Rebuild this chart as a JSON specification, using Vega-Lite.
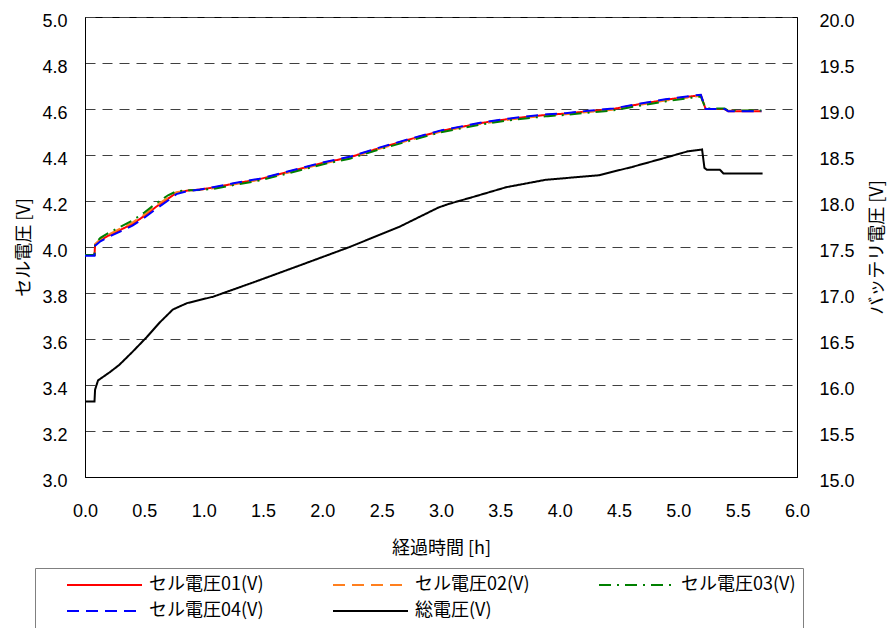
{
 "$schema": "https://vega.github.io/schema/vega-lite/v6.json",
 "width": 712, "height": 460,
 "autosize": "none",
 "padding": {"left": 85, "top": 17, "right": 91, "bottom": 151},
 "background": "white",
 "config": {
  "view": {"stroke": "black", "strokeWidth": 1},
  "font": "Noto Sans CJK JP",
  "axis": {"domainColor": "black", "labelColor": "black", "labelFont": "Liberation Sans", "labelFontSize": 18, "ticks": false, "titleFont": "Noto Sans CJK JP", "titleFontSize": 18, "titleFontWeight": "normal", "titleColor": "black", "labelFlush": false, "labelOverlap": false}
 },
 "data": {"values": [
  {"s":"セル電圧01(V)","t":0,"v":3.965},{"s":"セル電圧01(V)","t":0.08,"v":3.965},{"s":"セル電圧01(V)","t":0.085,"v":4.01},{"s":"セル電圧01(V)","t":0.13,"v":4.03},{"s":"セル電圧01(V)","t":0.2,"v":4.05},{"s":"セル電圧01(V)","t":0.3,"v":4.075},{"s":"セル電圧01(V)","t":0.4,"v":4.1},{"s":"セル電圧01(V)","t":0.5,"v":4.135},{"s":"セル電圧01(V)","t":0.6,"v":4.175},{"s":"セル電圧01(V)","t":0.7,"v":4.21},{"s":"セル電圧01(V)","t":0.77,"v":4.235},{"s":"セル電圧01(V)","t":0.86,"v":4.245},{"s":"セル電圧01(V)","t":0.97,"v":4.25},{"s":"セル電圧01(V)","t":1.1,"v":4.26},{"s":"セル電圧01(V)","t":1.25,"v":4.275},{"s":"セル電圧01(V)","t":1.47,"v":4.295},{"s":"セル電圧01(V)","t":1.7,"v":4.325},{"s":"セル電圧01(V)","t":2.0,"v":4.365},{"s":"セル電圧01(V)","t":2.23,"v":4.39},{"s":"セル電圧01(V)","t":2.48,"v":4.43},{"s":"セル電圧01(V)","t":2.75,"v":4.47},{"s":"セル電圧01(V)","t":3.0,"v":4.505},{"s":"セル電圧01(V)","t":3.2,"v":4.525},{"s":"セル電圧01(V)","t":3.35,"v":4.54},{"s":"セル電圧01(V)","t":3.55,"v":4.555},{"s":"セル電圧01(V)","t":3.71,"v":4.565},{"s":"セル電圧01(V)","t":3.9,"v":4.575},{"s":"セル電圧01(V)","t":4.05,"v":4.58},{"s":"セル電圧01(V)","t":4.24,"v":4.59},{"s":"セル電圧01(V)","t":4.45,"v":4.6},{"s":"セル電圧01(V)","t":4.66,"v":4.62},{"s":"セル電圧01(V)","t":4.89,"v":4.64},{"s":"セル電圧01(V)","t":5.11,"v":4.655},{"s":"セル電圧01(V)","t":5.19,"v":4.66},{"s":"セル電圧01(V)","t":5.23,"v":4.6},{"s":"セル電圧01(V)","t":5.39,"v":4.6},{"s":"セル電圧01(V)","t":5.42,"v":4.59},{"s":"セル電圧01(V)","t":5.7,"v":4.59},

  {"s":"セル電圧02(V)","t":0,"v":3.965},{"s":"セル電圧02(V)","t":0.08,"v":3.965},{"s":"セル電圧02(V)","t":0.085,"v":4.012},{"s":"セル電圧02(V)","t":0.13,"v":4.034},{"s":"セル電圧02(V)","t":0.2,"v":4.055},{"s":"セル電圧02(V)","t":0.3,"v":4.081},{"s":"セル電圧02(V)","t":0.4,"v":4.106},{"s":"セル電圧02(V)","t":0.5,"v":4.141},{"s":"セル電圧02(V)","t":0.6,"v":4.181},{"s":"セル電圧02(V)","t":0.7,"v":4.215},{"s":"セル電圧02(V)","t":0.77,"v":4.238},{"s":"セル電圧02(V)","t":0.86,"v":4.245},{"s":"セル電圧02(V)","t":0.97,"v":4.249},{"s":"セル電圧02(V)","t":1.1,"v":4.257},{"s":"セル電圧02(V)","t":1.25,"v":4.272},{"s":"セル電圧02(V)","t":1.47,"v":4.292},{"s":"セル電圧02(V)","t":1.7,"v":4.322},{"s":"セル電圧02(V)","t":2.0,"v":4.362},{"s":"セル電圧02(V)","t":2.23,"v":4.387},{"s":"セル電圧02(V)","t":2.48,"v":4.427},{"s":"セル電圧02(V)","t":2.75,"v":4.467},{"s":"セル電圧02(V)","t":3.0,"v":4.502},{"s":"セル電圧02(V)","t":3.2,"v":4.522},{"s":"セル電圧02(V)","t":3.35,"v":4.537},{"s":"セル電圧02(V)","t":3.55,"v":4.552},{"s":"セル電圧02(V)","t":3.71,"v":4.562},{"s":"セル電圧02(V)","t":3.9,"v":4.572},{"s":"セル電圧02(V)","t":4.05,"v":4.577},{"s":"セル電圧02(V)","t":4.24,"v":4.587},{"s":"セル電圧02(V)","t":4.45,"v":4.597},{"s":"セル電圧02(V)","t":4.66,"v":4.617},{"s":"セル電圧02(V)","t":4.89,"v":4.637},{"s":"セル電圧02(V)","t":5.11,"v":4.652},{"s":"セル電圧02(V)","t":5.19,"v":4.658},{"s":"セル電圧02(V)","t":5.23,"v":4.6},{"s":"セル電圧02(V)","t":5.39,"v":4.6},{"s":"セル電圧02(V)","t":5.42,"v":4.592},{"s":"セル電圧02(V)","t":5.7,"v":4.592},

  {"s":"セル電圧03(V)","t":0,"v":3.965},{"s":"セル電圧03(V)","t":0.08,"v":3.965},{"s":"セル電圧03(V)","t":0.085,"v":4.015},{"s":"セル電圧03(V)","t":0.13,"v":4.04},{"s":"セル電圧03(V)","t":0.2,"v":4.062},{"s":"セル電圧03(V)","t":0.3,"v":4.088},{"s":"セル電圧03(V)","t":0.4,"v":4.115},{"s":"セル電圧03(V)","t":0.5,"v":4.15},{"s":"セル電圧03(V)","t":0.6,"v":4.19},{"s":"セル電圧03(V)","t":0.7,"v":4.225},{"s":"セル電圧03(V)","t":0.77,"v":4.242},{"s":"セル電圧03(V)","t":0.86,"v":4.247},{"s":"セル電圧03(V)","t":0.97,"v":4.248},{"s":"セル電圧03(V)","t":1.1,"v":4.254},{"s":"セル電圧03(V)","t":1.25,"v":4.269},{"s":"セル電圧03(V)","t":1.47,"v":4.289},{"s":"セル電圧03(V)","t":1.7,"v":4.319},{"s":"セル電圧03(V)","t":2.0,"v":4.359},{"s":"セル電圧03(V)","t":2.23,"v":4.384},{"s":"セル電圧03(V)","t":2.48,"v":4.424},{"s":"セル電圧03(V)","t":2.75,"v":4.464},{"s":"セル電圧03(V)","t":3.0,"v":4.499},{"s":"セル電圧03(V)","t":3.2,"v":4.519},{"s":"セル電圧03(V)","t":3.35,"v":4.534},{"s":"セル電圧03(V)","t":3.55,"v":4.549},{"s":"セル電圧03(V)","t":3.71,"v":4.559},{"s":"セル電圧03(V)","t":3.9,"v":4.569},{"s":"セル電圧03(V)","t":4.05,"v":4.574},{"s":"セル電圧03(V)","t":4.24,"v":4.584},{"s":"セル電圧03(V)","t":4.45,"v":4.594},{"s":"セル電圧03(V)","t":4.66,"v":4.613},{"s":"セル電圧03(V)","t":4.89,"v":4.633},{"s":"セル電圧03(V)","t":5.11,"v":4.649},{"s":"セル電圧03(V)","t":5.19,"v":4.654},{"s":"セル電圧03(V)","t":5.23,"v":4.602},{"s":"セル電圧03(V)","t":5.39,"v":4.602},{"s":"セル電圧03(V)","t":5.42,"v":4.593},{"s":"セル電圧03(V)","t":5.7,"v":4.593},

  {"s":"セル電圧04(V)","t":0,"v":3.962},{"s":"セル電圧04(V)","t":0.08,"v":3.962},{"s":"セル電圧04(V)","t":0.085,"v":4.005},{"s":"セル電圧04(V)","t":0.13,"v":4.025},{"s":"セル電圧04(V)","t":0.2,"v":4.044},{"s":"セル電圧04(V)","t":0.3,"v":4.068},{"s":"セル電圧04(V)","t":0.4,"v":4.093},{"s":"セル電圧04(V)","t":0.5,"v":4.127},{"s":"セル電圧04(V)","t":0.6,"v":4.166},{"s":"セル電圧04(V)","t":0.7,"v":4.202},{"s":"セル電圧04(V)","t":0.77,"v":4.23},{"s":"セル電圧04(V)","t":0.86,"v":4.243},{"s":"セル電圧04(V)","t":0.97,"v":4.25},{"s":"セル電圧04(V)","t":1.1,"v":4.262},{"s":"セル電圧04(V)","t":1.25,"v":4.277},{"s":"セル電圧04(V)","t":1.47,"v":4.297},{"s":"セル電圧04(V)","t":1.7,"v":4.327},{"s":"セル電圧04(V)","t":2.0,"v":4.367},{"s":"セル電圧04(V)","t":2.23,"v":4.392},{"s":"セル電圧04(V)","t":2.48,"v":4.432},{"s":"セル電圧04(V)","t":2.75,"v":4.472},{"s":"セル電圧04(V)","t":3.0,"v":4.507},{"s":"セル電圧04(V)","t":3.2,"v":4.527},{"s":"セル電圧04(V)","t":3.35,"v":4.542},{"s":"セル電圧04(V)","t":3.55,"v":4.557},{"s":"セル電圧04(V)","t":3.71,"v":4.567},{"s":"セル電圧04(V)","t":3.9,"v":4.577},{"s":"セル電圧04(V)","t":4.05,"v":4.582},{"s":"セル電圧04(V)","t":4.24,"v":4.592},{"s":"セル電圧04(V)","t":4.45,"v":4.602},{"s":"セル電圧04(V)","t":4.66,"v":4.622},{"s":"セル電圧04(V)","t":4.89,"v":4.642},{"s":"セル電圧04(V)","t":5.11,"v":4.657},{"s":"セル電圧04(V)","t":5.19,"v":4.662},{"s":"セル電圧04(V)","t":5.23,"v":4.6},{"s":"セル電圧04(V)","t":5.39,"v":4.6},{"s":"セル電圧04(V)","t":5.42,"v":4.59},{"s":"セル電圧04(V)","t":5.7,"v":4.59},

  {"s":"総電圧(V)","t":0,"v":15.82},{"s":"総電圧(V)","t":0.08,"v":15.82},{"s":"総電圧(V)","t":0.085,"v":15.95},{"s":"総電圧(V)","t":0.11,"v":16.05},{"s":"総電圧(V)","t":0.21,"v":16.14},{"s":"総電圧(V)","t":0.29,"v":16.22},{"s":"総電圧(V)","t":0.4,"v":16.36},{"s":"総電圧(V)","t":0.52,"v":16.52},{"s":"総電圧(V)","t":0.63,"v":16.68},{"s":"総電圧(V)","t":0.74,"v":16.82},{"s":"総電圧(V)","t":0.86,"v":16.89},{"s":"総電圧(V)","t":1.08,"v":16.96},{"s":"総電圧(V)","t":1.45,"v":17.13},{"s":"総電圧(V)","t":1.81,"v":17.3},{"s":"総電圧(V)","t":2.23,"v":17.5},{"s":"総電圧(V)","t":2.65,"v":17.72},{"s":"総電圧(V)","t":2.98,"v":17.93},{"s":"総電圧(V)","t":3.07,"v":17.97},{"s":"総電圧(V)","t":3.26,"v":18.04},{"s":"総電圧(V)","t":3.55,"v":18.15},{"s":"総電圧(V)","t":3.88,"v":18.23},{"s":"総電圧(V)","t":4.24,"v":18.27},{"s":"総電圧(V)","t":4.33,"v":18.28},{"s":"総電圧(V)","t":4.61,"v":18.37},{"s":"総電圧(V)","t":4.89,"v":18.47},{"s":"総電圧(V)","t":5.08,"v":18.54},{"s":"総電圧(V)","t":5.2,"v":18.56},{"s":"総電圧(V)","t":5.22,"v":18.36},{"s":"総電圧(V)","t":5.24,"v":18.34},{"s":"総電圧(V)","t":5.35,"v":18.34},{"s":"総電圧(V)","t":5.38,"v":18.3},{"s":"総電圧(V)","t":5.71,"v":18.3}
 ]},
 "encoding": {
  "x": {"field": "t", "type": "quantitative", "scale": {"domain": [0, 6], "nice": false, "zero": false},
   "axis": {"values": [0,0.5,1,1.5,2,2.5,3,3.5,4,4.5,5,5.5,6], "format": ".1f", "grid": false, "labelPadding": 25, "title": "経過時間 [h]", "titlePadding": 19}}
 },
 "layer": [
  {
   "transform": [{"filter": "datum.s !== '総電圧(V)'"}],
   "mark": {"type": "line", "strokeWidth": 2, "clip": true},
   "encoding": {
    "y": {"field": "v", "type": "quantitative", "scale": {"domain": [3, 5], "nice": false, "zero": false},
     "axis": {"values": [3,3.2,3.4,3.6,3.8,4,4.2,4.4,4.6,4.8,5], "format": ".1f", "grid": true, "gridDash": [10, 7], "gridColor": "#404040", "gridWidth": 1, "labelPadding": 18, "labelOffset": 4, "title": "セル電圧 [V]", "titlePadding": 8, "orient": "left"}},
    "color": {"field": "s", "type": "nominal",
     "scale": {"domain": ["セル電圧01(V)","セル電圧02(V)","セル電圧03(V)","セル電圧04(V)","総電圧(V)"], "range": ["#FF0000","#FF7F1E","#008000","#0000FF","#000000"]},
     "legend": {"orient": "none", "legendX": -50, "legendY": 551, "direction": "horizontal", "columns": 3, "title": null, "symbolType": "stroke", "symbolSize": 5625, "symbolStrokeWidth": 2, "labelFont": "Noto Sans CJK JP", "labelFontSize": 18, "labelColor": "black", "labelLimit": 400, "padding": 7, "strokeColor": "#808080", "fillColor": "white", "columnPadding": 44, "rowPadding": 6, "clipHeight": 20, "symbolOffset": 24, "labelOffset": 6}},
    "strokeDash": {"field": "s", "type": "nominal",
     "scale": {"domain": ["セル電圧01(V)","セル電圧02(V)","セル電圧03(V)","セル電圧04(V)","総電圧(V)"], "range": [[1,0],[12,7],[12,6,2,6],[12,7],[1,0]]},
     "legend": {"orient": "none", "legendX": -50, "legendY": 551, "direction": "horizontal", "columns": 3, "title": null, "symbolType": "stroke", "symbolSize": 5625, "symbolStrokeWidth": 2, "labelFont": "Noto Sans CJK JP", "labelFontSize": 18, "labelColor": "black", "labelLimit": 400, "padding": 7, "strokeColor": "#808080", "fillColor": "white", "columnPadding": 44, "rowPadding": 6, "clipHeight": 20, "symbolOffset": 24, "labelOffset": 6}}
   }
  },
  {
   "transform": [{"filter": "datum.s === '総電圧(V)'"}],
   "mark": {"type": "line", "strokeWidth": 2, "clip": true},
   "encoding": {
    "y": {"field": "v", "type": "quantitative", "scale": {"domain": [15, 20], "nice": false, "zero": false},
     "axis": {"values": [15,15.5,16,16.5,17,17.5,18,18.5,19,19.5,20], "format": ".1f", "grid": false, "labelPadding": 22, "labelOffset": 4, "title": "バッテリ電圧 [V]", "titleAngle": 270, "titlePadding": 32, "orient": "right"}},
    "color": {"field": "s", "type": "nominal"},
    "strokeDash": {"field": "s", "type": "nominal"}
   }
  }
 ],
 "resolve": {"scale": {"y": "independent"}}
}
